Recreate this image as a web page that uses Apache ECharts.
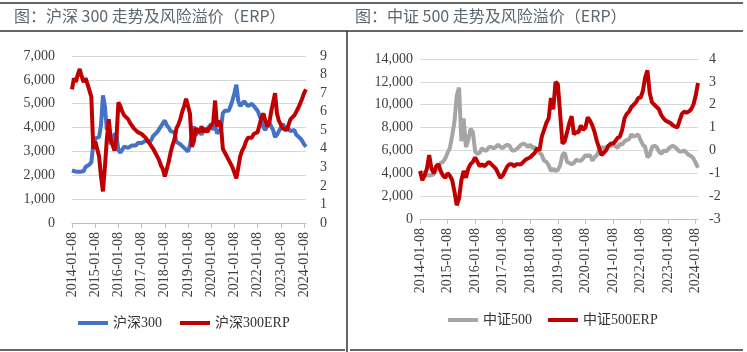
<!DOCTYPE html>
<html lang="zh">

<head>
    <meta charset="utf-8">
    <script src="https://cdn.jsdelivr.net/npm/echarts@6/dist/echarts.min.js"></script>
    <style>
        body { margin: 0; background: #fff; }
    </style>
</head>

<body>
    <div id="main" style="width: 747px;height:352px;"></div>
    <script type="text/javascript">
    // 月度日期 2014-01-08 ~ 2024-02-08
    var dates = [];
    for (var y = 2014; y <= 2024; y++) {
        for (var m = 1; m <= 12; m++) {
            if (y == 2024 && m > 2) break;
            dates.push(y + '-' + (m < 10 ? '0' + m : m) + '-08');
        }
    }

    // 沪深300 指数
    var hs300 = [
        2200, 2250, 2150, 2180, 2150, 2160, 2170, 2350, 2400, 2450, 2550, 3300,
        3550, 3500, 3600, 4100, 5350, 4900, 3900, 4300, 3300, 3450, 3750, 3650,
        3050, 2950, 2950, 3200, 3150, 3150, 3200, 3250, 3300, 3250, 3350, 3400,
        3350, 3400, 3450, 3500, 3380, 3480, 3650, 3700, 3800, 3850, 4050, 3980,
        4300, 4100, 4000, 3850, 3850, 3800, 3400, 3350, 3300, 3300, 3150, 3100,
        3000, 3250, 3700, 4050, 3700, 3650, 3850, 3700, 3900, 3850, 3950, 3950,
        4150, 3900, 4100, 3750, 3850, 3950, 4600, 4700, 4700, 4700, 4900, 5150,
        5450, 5800, 5100, 4900, 5000, 5100, 5000, 4900, 4950, 5000, 4900, 4900,
        4700, 4500, 4300, 4000, 3900, 4100, 4200, 4050, 3900, 3600, 3700, 3850,
        4000, 4150, 4000, 4000, 3950, 3850, 3850, 3900, 3700, 3650, 3550, 3450,
        3300, 3200
    ];
    // 沪深300 ERP (%)
    var hs300Erp = [
        7.2, 7.8, 7.6, 8.0, 8.3, 7.9, 7.6, 7.8, 7.5, 7.6, 6.8, 4.0,
        4.4, 4.3, 3.6, 2.5, 1.7, 3.0, 4.5, 5.6, 4.5, 4.2, 3.9, 4.6,
        6.5, 6.3, 6.0, 5.8, 5.7, 5.6, 5.4, 5.3, 5.1, 5.0, 4.9, 4.85,
        4.8, 4.7, 4.6, 4.5, 4.3, 4.2, 4.0, 3.8, 3.6, 3.4, 3.1, 2.9,
        2.5, 2.9, 3.3, 3.8, 4.2, 4.5, 5.1, 5.3, 5.6, 6.0, 6.3, 6.7,
        6.6, 5.9, 4.1, 4.4, 5.1, 5.0, 4.9, 5.2, 4.9, 5.1, 4.9, 5.1,
        5.0, 5.4, 6.6, 5.2, 5.5, 5.3, 4.0, 3.8, 3.6, 3.4, 3.2, 3.0,
        2.7, 2.4, 3.0, 3.6, 3.9, 4.1, 4.4, 4.6, 4.7, 4.6, 4.8, 4.85,
        4.9, 5.3, 5.7, 5.9, 5.5, 5.2, 5.4, 6.0, 6.5, 7.0, 5.9, 5.5,
        5.3, 5.1, 5.0, 5.0, 5.3, 5.6, 5.5, 5.8, 6.0, 6.2, 6.3, 6.7,
        7.0, 7.2
    ];
    // 中证500 指数
    var zz500 = [
        4000, 4100, 3800, 3850, 3800, 3850, 3900, 4300, 4600, 4900, 5000, 5300,
        5800, 6200, 7300, 8500, 10800, 11500, 6800, 8800, 6300, 6900, 7900, 7600,
        5900, 5700, 5800, 6200, 6000, 6000, 6300, 6300, 6200, 6300, 6500, 6300,
        6200, 6400, 6500, 6400, 6000, 6000, 6100, 6300, 6500, 6600, 6500, 6300,
        6500, 6200, 6300, 6000, 5800, 5600, 5100, 5000, 4700, 4200, 4400, 4200,
        4300, 4700, 5600, 5800, 5000, 4900, 4800, 4900, 5200, 5100, 5100, 5300,
        5600, 5500, 5600, 5100, 5400, 5600, 6000, 6300, 6200, 6300, 6400, 6400,
        6500, 6400, 6200, 6600, 6500, 6800, 6900, 7000, 7400, 7200, 7300, 7400,
        6900, 6500, 6300, 5400, 5600, 6300, 6400, 6300, 5900, 5700, 6000, 5900,
        6100, 6300, 6400, 6300, 6100, 5900, 5900, 6000, 5800, 5600, 5500, 5300,
        4900, 4500
    ];
    // 中证500 ERP (%)
    var zz500Erp = [
        -0.9, -1.3, -1.1, -0.8, -0.2, -0.8, -1.0, -0.7, -0.6, -0.9, -1.1, -1.2,
        -1.0, -1.1, -1.3, -1.8, -2.4, -2.1, -1.3, -0.9, -1.2, -0.8, -0.6, -0.5,
        -0.3, -0.5, -0.7, -0.6, -0.7, -0.6, -0.5, -0.6, -0.7, -0.8, -1.0, -1.2,
        -1.1, -0.9, -0.7, -0.6, -0.6, -0.7, -0.6, -0.6, -0.6, -0.5, -0.4, -0.35,
        -0.3, -0.2, -0.1, 0.1, 0.0, 0.6, 0.9, 1.2, 1.4, 2.3, 1.8, 3.0,
        2.9, 1.6, 0.3, 0.4, 0.8, 1.2, 1.5, 0.7, 0.8, 0.8, 1.1, 0.9,
        1.0, 1.45, 1.3, 1.1, 0.8, 0.4, 0.1, -0.2, -0.1, 0.0, 0.2, 0.3,
        0.3, 0.4, 0.55, 0.6, 0.9, 1.4, 1.6, 1.7, 1.9, 2.0, 2.1, 2.3,
        2.3, 2.6, 3.2, 3.5, 2.5, 2.1, 2.0, 1.9, 1.8, 1.55, 1.4, 1.3,
        1.25, 1.2, 1.1, 1.05, 1.0, 1.3, 1.6, 1.7, 1.65, 1.7, 1.8, 2.0,
        2.4, 2.95
    ];

    var serif = '"Liberation Serif", "Noto Sans CJK SC"';
    var labelColor = '#404040';

    function xAxisOf(gridIndex) {
        return {
            type: 'category',
            gridIndex: gridIndex,
            data: dates,
            boundaryGap: false,
            axisLine: { lineStyle: { color: '#bfbfbf' } },
            axisTick: { interval: 11, length: 5, lineStyle: { color: '#bfbfbf' } },
            axisLabel: {
                interval: 11, rotate: 90, margin: 9,
                color: labelColor, fontFamily: serif, fontSize: 14
            }
        };
    }

    function yAxisOf(gridIndex, min, max, interval, grid, margin, fmt) {
        return {
            type: 'value',
            gridIndex: gridIndex,
            min: min, max: max, interval: interval,
            position: grid ? 'left' : 'right',
            axisLine: { show: false },
            axisTick: { show: false },
            splitLine: { show: grid, lineStyle: { color: '#d9d9d9' } },
            axisLabel: {
                margin: margin, color: labelColor, fontFamily: serif, fontSize: 14,
                formatter: fmt
            }
        };
    }

    function thousands(v) { return v.toLocaleString('en-US'); }

    function lineOf(name, data, color, xi, yi) {
        return {
            name: name, type: 'line', data: data,
            xAxisIndex: xi, yAxisIndex: yi,
            showSymbol: false, smooth: false,
            lineStyle: { color: color, width: 4 },
            itemStyle: { color: color }
        };
    }

    var myChart = echarts.init(document.getElementById('main'));
    myChart.setOption({
        animation: false,
        grid: [
            { left: 72, top: 56, width: 234, height: 167 },
            { left: 420, top: 59, width: 278, height: 160 }
        ],
        xAxis: [xAxisOf(0), xAxisOf(1)],
        yAxis: [
            yAxisOf(0, 0, 7000, 1000, true, 17, thousands),
            yAxisOf(0, 0, 9, 1, false, 14),
            yAxisOf(1, 0, 14000, 2000, true, 7, thousands),
            yAxisOf(1, -3, 4, 1, false, 11)
        ],
        legend: [
            {
                data: ['沪深300', '沪深300ERP'],
                left: 73, top: 311, itemWidth: 30, itemHeight: 4, itemGap: 18,
                icon: 'rect',
                textStyle: { color: '#333', fontFamily: serif, fontSize: 14 }
            },
            {
                data: ['中证500', '中证500ERP'],
                left: 443, top: 308, itemWidth: 30, itemHeight: 4, itemGap: 16,
                icon: 'rect',
                textStyle: { color: '#333', fontFamily: serif, fontSize: 14 }
            }
        ],
        series: [
            lineOf('沪深300', hs300, '#4472c4', 0, 0),
            lineOf('沪深300ERP', hs300Erp, '#c00000', 0, 1),
            lineOf('中证500', zz500, '#a5a5a5', 1, 2),
            lineOf('中证500ERP', zz500Erp, '#c00000', 1, 3)
        ],
        // 标题栏和分隔线
        graphic: [
            { type: 'line', shape: { x1: 0, y1: 3, x2: 743, y2: 3 }, style: { stroke: '#333', lineWidth: 1.5 } },
            { type: 'line', shape: { x1: 0, y1: 31, x2: 743, y2: 31 }, style: { stroke: '#333', lineWidth: 1.5 } },
            { type: 'line', shape: { x1: 347, y1: 31, x2: 347, y2: 352 }, style: { stroke: '#333', lineWidth: 1.5 } },
            { type: 'line', shape: { x1: 0, y1: 350, x2: 345, y2: 350 }, style: { stroke: '#333', lineWidth: 1.5 } },
            { type: 'line', shape: { x1: 350, y1: 350, x2: 743, y2: 350 }, style: { stroke: '#333', lineWidth: 1.5 } },
            {
                type: 'text', left: 14, top: 8,
                style: { text: '图：沪深 300 走势及风险溢价（ERP）', font: '16px "Noto Sans CJK SC"', fill: '#5a6670' }
            },
            {
                type: 'text', left: 355, top: 8,
                style: { text: '图：中证 500 走势及风险溢价（ERP）', font: '16px "Noto Sans CJK SC"', fill: '#5a6670' }
            }
        ]
    });
    </script>
</body>

</html>
